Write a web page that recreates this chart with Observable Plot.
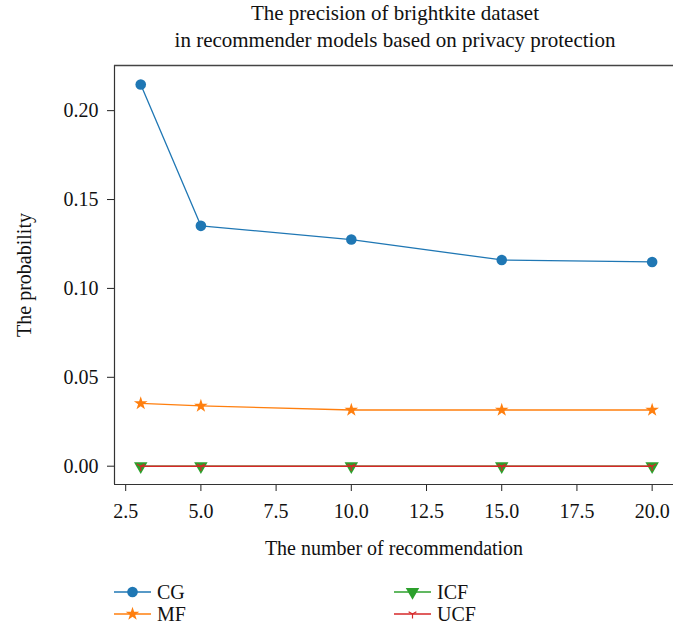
<!DOCTYPE html>
<html>
<head>
<meta charset="utf-8">
<script src="https://cdn.jsdelivr.net/npm/d3@7"></script>
<script src="https://cdn.jsdelivr.net/npm/@observablehq/plot@0.6"></script>
<style>
  body { margin: 0; background: #fff; font-family: "Liberation Serif", serif; color: #111; }
  #wrap { position: relative; width: 673px; height: 631px; overflow: hidden; }
  #title { position: absolute; left: 114px; width: 562px; top: 0; text-align: center; font-size: 21px; line-height: 27px; white-space: nowrap; }
  #chart { position: absolute; left: 0; top: 56px; }
  #legend { position: absolute; left: 0; top: 581px; width: 673px; font-size: 20px; }
  .item { position: absolute; display: flex; align-items: center; height: 22px; }
  .item svg { margin-right: 6px; }
</style>
</head>
<body>
<div id="wrap">
  <div id="title">The precision of brightkite dataset<br>in recommender models based on privacy protection</div>
  <div id="chart"></div>
  <div id="legend"></div>
</div>
<script>
const xValues = [3, 5, 10, 15, 20];
const cgValues = [0.2147, 0.1352, 0.1275, 0.1160, 0.1149];
const mfValues = [0.0353, 0.0339, 0.0316, 0.0316, 0.0316];
const icfValues = [0, 0, 0, 0, 0];
const ucfValues = [0, 0, 0, 0, 0];
const seriesNames = ["CG", "MF", "ICF", "UCF"];
const seriesColors = ["#1f77b4", "#ff7f0e", "#2ca02c", "#d62728"];
const xTicks = [2.5, 5.0, 7.5, 10.0, 12.5, 15.0, 17.5, 20.0];
const yTicks = [0.00, 0.05, 0.10, 0.15, 0.20];
const xLabel = "The number of recommendation";
const yLabel = "The probability";

const allValues = [cgValues, mfValues, icfValues, ucfValues];
const rows = [];
seriesNames.forEach((s, i) => xValues.forEach((x, j) => rows.push({series: s, x, y: allValues[i][j]})));
const bySeries = s => rows.filter(d => d.series === s);

// matplotlib-like tri_down marker
const triDown = {
  draw(ctx, size) {
    const r = Math.sqrt(size / Math.PI);
    ctx.moveTo(0, 0); ctx.lineTo(0, r);
    ctx.moveTo(0, 0); ctx.lineTo(-r * 0.866, -r * 0.5);
    ctx.moveTo(0, 0); ctx.lineTo(r * 0.866, -r * 0.5);
  }
};

const xDomain = [2.128, 20.71];
const yDomain = [-0.0103, 0.2254];
const rCircle = 5.3, rStar = 4.3, rTri = 5.0, rTriDown = 4.5;

const chart = Plot.plot({
  width: 673,
  height: 509,
  marginTop: 9,
  marginLeft: 114,
  marginRight: 0,
  marginBottom: 81,
  style: {fontFamily: "Liberation Serif, serif", fontSize: "20px", color: "#111", background: "transparent"},
  x: {domain: xDomain},
  y: {domain: yDomain},
  marks: [
    Plot.axisY({ticks: yTicks, tickFormat: d3.format(".2f"), tickSize: 7, tickPadding: 9, label: yLabel, labelAnchor: "center", labelArrow: "none", labelOffset: 98, stroke: "#222"}),
    Plot.axisX({ticks: xTicks, tickFormat: d3.format(".1f"), tickSize: 7, tickPadding: 12, label: xLabel, labelAnchor: "center", labelArrow: "none", labelOffset: 70, stroke: "#222"}),
    Plot.ruleX([xDomain[0]], {stroke: "#333", strokeWidth: 1.2}),
    Plot.ruleY([yDomain[1]], {stroke: "#444", strokeWidth: 1.4}),
    Plot.ruleY([yDomain[0]], {stroke: "#333", strokeWidth: 1.2}),
    Plot.line(bySeries("CG"), {x: "x", y: "y", stroke: seriesColors[0], strokeWidth: 1.3}),
    Plot.dot(bySeries("CG"), {x: "x", y: "y", symbol: "circle", r: rCircle, fill: seriesColors[0]}),
    Plot.line(bySeries("MF"), {x: "x", y: "y", stroke: seriesColors[1], strokeWidth: 1.3}),
    Plot.dot(bySeries("MF"), {x: "x", y: "y", symbol: "star", r: rStar, fill: seriesColors[1]}),
    Plot.line(bySeries("ICF"), {x: "x", y: "y", stroke: seriesColors[2], strokeWidth: 1.3}),
    Plot.dot(bySeries("ICF"), {x: "x", y: "y", symbol: "triangle", rotate: 180, r: rTri, fill: seriesColors[2]}),
    Plot.line(bySeries("UCF"), {x: "x", y: "y", stroke: seriesColors[3], strokeWidth: 1.5}),
    Plot.dot(bySeries("UCF"), {x: "x", y: "y", symbol: triDown, r: rTriDown, fill: "none", stroke: seriesColors[3], strokeWidth: 1.2})
  ]
});
document.getElementById("chart").appendChild(chart);

// Legend
const legendSymbols = [
  {sym: d3.symbolCircle, size: Math.PI * rCircle * rCircle, fill: true},
  {sym: d3.symbolStar, size: Math.PI * rStar * rStar, fill: true},
  {sym: d3.symbolTriangle, size: Math.PI * rTri * rTri, fill: true, rotate: 180},
  {sym: triDown, size: Math.PI * rTriDown * rTriDown, fill: false}
];
const legendPos = [[114, 0], [114, 22], [394, 0], [394, 22]];
const legend = document.getElementById("legend");
seriesNames.forEach((name, i) => {
  const item = document.createElement("div");
  item.className = "item";
  item.style.left = legendPos[i][0] + "px";
  item.style.top = legendPos[i][1] + "px";
  const ls = legendSymbols[i];
  const path = d3.symbol(ls.sym, ls.size)();
  const c = seriesColors[i];
  item.innerHTML =
    `<svg width="37" height="22"><line x1="0" x2="37" y1="11" y2="11" stroke="${c}" stroke-width="1.3"/>` +
    `<path d="${path}" transform="translate(18.5,11)${ls.rotate ? " rotate(" + ls.rotate + ")" : ""}" fill="${ls.fill ? c : "none"}" stroke="${ls.fill ? "none" : c}" stroke-width="1.2"/></svg>` +
    `<span>${name}</span>`;
  legend.appendChild(item);
});
</script>
</body>
</html>
